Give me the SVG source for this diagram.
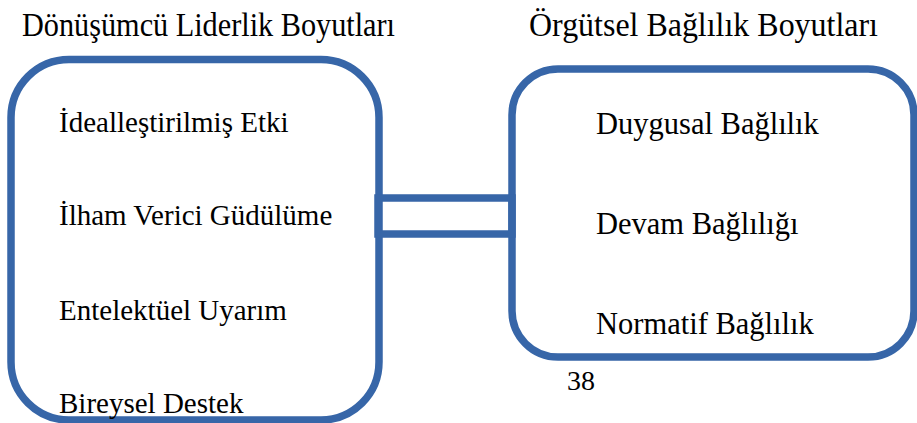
<svg xmlns="http://www.w3.org/2000/svg" width="917" height="423" viewBox="0 0 917 423">
<style>
.box{fill:#ffffff;stroke:#3766A8;stroke-width:7.5}
.conn{fill:none;stroke:#3766A8;stroke-width:7.5}
</style>
<rect width="917" height="423" fill="#ffffff"/>
<g font-family="Liberation Serif, Times New Roman, serif" fill="#000000">
<g id="title-left"><text font-size="33" x="22" y="36" textLength="373" lengthAdjust="spacingAndGlyphs">Dönüşümcü Liderlik Boyutları</text></g>
<g id="title-right"><text font-size="33" x="529" y="36" textLength="349" lengthAdjust="spacingAndGlyphs">Örgütsel Bağlılık Boyutları</text></g>
<g id="left-box">
<rect class="box" x="11" y="59.5" width="368" height="360.5" rx="58" ry="58"/>
<text font-size="29" x="59" y="132">İdealleştirilmiş Etki</text>
<text font-size="29" x="59" y="225">İlham Verici Güdülüme</text>
<text font-size="29" x="59" y="320">Entelektüel Uyarım</text>
<text font-size="29" x="59" y="413">Bireysel Destek</text>
</g>
<g id="right-box">
<rect class="box" x="512" y="69" width="402" height="288" rx="46" ry="46"/>
<text font-size="30.5" x="596" y="134">Duygusal Bağlılık</text>
<text font-size="30.5" x="596" y="234">Devam Bağlılığı</text>
<text font-size="30.5" x="596" y="334">Normatif Bağlılık</text>
</g>
<g id="page-number"><text font-size="28" x="567" y="390">38</text></g>
</g>
<g id="connectors">
<rect class="conn" x="378" y="198" width="134" height="36"/>
</g>
</svg>
